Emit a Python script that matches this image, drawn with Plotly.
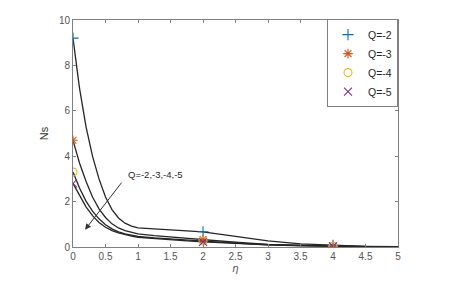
import plotly.graph_objects as go

eta = [0, 0.1, 0.2, 0.3, 0.4, 0.5, 0.6, 0.7, 0.8, 0.9, 1.0, 1.25, 1.5, 1.75, 2.0, 2.5, 3.0, 3.5, 4.0, 4.5, 5.0]
ns_q2 = [9.2, 7.0, 5.3, 4.0, 3.0, 2.2, 1.65, 1.28, 1.05, 0.92, 0.84, 0.79, 0.76, 0.72, 0.67, 0.47, 0.27, 0.14, 0.07, 0.03, 0.01]
ns_q3 = [4.7, 3.7, 2.9, 2.2, 1.68, 1.3, 1.02, 0.84, 0.72, 0.64, 0.58, 0.5, 0.44, 0.38, 0.33, 0.21, 0.12, 0.07, 0.04, 0.02, 0.01]
ns_q4 = [3.3, 2.6, 2.02, 1.58, 1.24, 0.98, 0.8, 0.67, 0.58, 0.52, 0.47, 0.4, 0.35, 0.3, 0.26, 0.17, 0.1, 0.06, 0.035, 0.02, 0.01]
ns_q5 = [2.8, 2.25, 1.77, 1.38, 1.08, 0.87, 0.72, 0.62, 0.54, 0.48, 0.43, 0.37, 0.32, 0.27, 0.23, 0.15, 0.09, 0.05, 0.03, 0.015, 0.01]
series = [("Q=-2", ns_q2, "#0072BD", "cross-thin-open"),
          ("Q=-3", ns_q3, "#D95319", "asterisk-open"),
          ("Q=-4", ns_q4, "#EDB120", "circle-open"),
          ("Q=-5", ns_q5, "#7E2F8E", "x-thin-open")]
marker_eta = [0, 2.0, 4.0]
tick_vals_x = [0, 0.5, 1, 1.5, 2, 2.5, 3, 3.5, 4, 4.5, 5]
tick_vals_y = [0, 2, 4, 6, 8, 10]

fig = go.Figure()
for name, ys, col, sym in series:
    fig.add_trace(go.Scatter(x=eta, y=ys, mode="lines", line=dict(color="#262626", width=1.3),
                             showlegend=False, hoverinfo="skip"))
for name, ys, col, sym in series:
    mx = [e for e in marker_eta]
    my = [ys[eta.index(e)] for e in marker_eta]
    fig.add_trace(go.Scatter(x=mx, y=my, mode="markers", name=name,
                             marker=dict(symbol=sym, color=col, size=8,
                                         line=dict(color=col, width=1.1))))

fig.add_annotation(x=0.185, y=0.76, ax=0.765, ay=2.9, xref="x", yref="y", axref="x", ayref="y",
                   text="", showarrow=True, arrowhead=2, arrowsize=1.2, arrowwidth=1, arrowcolor="#333333")
fig.add_annotation(x=0.82, y=3.2, xref="x", yref="y", text="Q=-2,-3,-4,-5", showarrow=False,
                   xanchor="left", yanchor="middle", font=dict(size=9.5, color="#262626"))

axis_common = dict(showline=True, linecolor="#808080", linewidth=1, mirror="ticks",
                   ticks="inside", ticklen=3, tickcolor="#808080", showgrid=False, zeroline=False,
                   tickfont=dict(size=10, color="#555555", family="Liberation Sans"))
fig.update_xaxes(range=[0, 5], tickvals=tick_vals_x, ticktext=[f"{v:g}" for v in tick_vals_x],
                 title=dict(text="<i>η</i>", standoff=0, font=dict(size=11, color="#555555")), **axis_common)
fig.update_yaxes(range=[0, 10], tickvals=tick_vals_y,
                 title=dict(text="Ns", standoff=8, font=dict(size=11, color="#333333")), **axis_common)

fig.update_layout(width=475, height=291, margin=dict(l=65, r=85, t=6, b=52),
                  plot_bgcolor="white", paper_bgcolor="white",
                  font=dict(family="Liberation Sans", size=10, color="#262626"),
                  legend=dict(x=1, y=1.004, xanchor="right", yanchor="top", bgcolor="white",
                              bordercolor="#808080", borderwidth=1, font=dict(size=10.5),
                              itemwidth=30, tracegroupgap=0))
fig.write_html("out.html")
